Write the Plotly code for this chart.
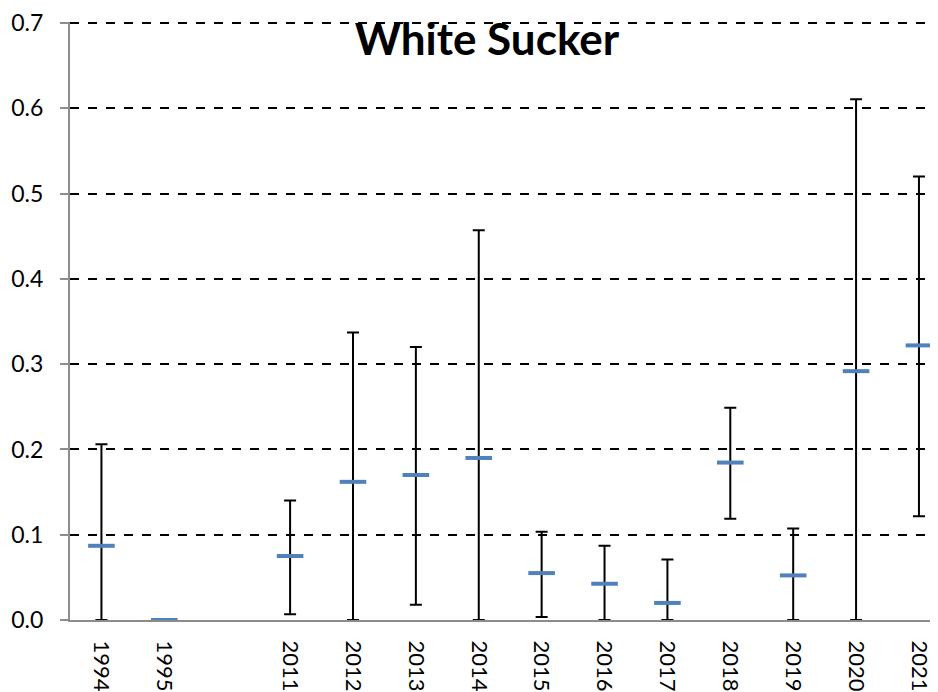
import plotly.graph_objects as go

categories = ["1994", "1995", " ", "2011", "2012", "2013", "2014", "2015",
              "2016", "2017", "2018", "2019", "2020", "2021"]
years = ["1994", "1995", "2011", "2012", "2013", "2014", "2015",
         "2016", "2017", "2018", "2019", "2020", "2021"]
mean = [0.087, 0.0, 0.075, 0.162, 0.170, 0.190, 0.055, 0.0425, 0.020, 0.1846, 0.0523, 0.2918, 0.322]
upper = [0.206, 0.0, 0.140, 0.337, 0.320, 0.457, 0.1034, 0.087, 0.071, 0.249, 0.1073, 0.6107, 0.520]
lower = [0.0, 0.0, 0.0066, 0.0, 0.018, 0.0, 0.0035, 0.0, 0.0, 0.1186, 0.0, 0.0, 0.1217]

err_plus = [u - m for u, m in zip(upper, mean)]
err_minus = [m - l for m, l in zip(mean, lower)]

fig = go.Figure()
fig.add_trace(go.Scatter(
    x=years, y=mean, mode="markers",
    marker=dict(symbol="line-ew", size=19, line=dict(width=4, color="#4F81BD"), color="#4F81BD"),
    error_y=dict(type="data", symmetric=False, array=err_plus, arrayminus=err_minus,
                 color="black", thickness=2, width=6),
    showlegend=False, cliponaxis=False,
))

font_family = "Lato, Liberation Sans, sans-serif"
fig.update_layout(
    width=938, height=692,
    margin=dict(l=62, r=0, t=14, b=80, autoexpand=False),
    paper_bgcolor="white", plot_bgcolor="white",
    font=dict(family=font_family, color="black", size=22),
    title=dict(text="<b>White Sucker</b>", x=479/938, xanchor="center",
               y=1 - 32/692, yanchor="middle",
               font=dict(family=font_family, size=44, color="black")),
    xaxis=dict(type="category", categoryorder="array", categoryarray=categories,
               range=[-0.5, 13.43], tickangle=90, showgrid=False,
               showline=True, linecolor="#8c8c8c", linewidth=2, ticks="",
               ticklabelstandoff=14,
               tickfont=dict(size=22), zeroline=False),
    yaxis=dict(range=[0, 0.7012], dtick=0.1, tickformat=".1f",
               showgrid=True, gridcolor="black", griddash="dash", gridwidth=1.6,
               showline=True, linecolor="#8c8c8c", linewidth=2,
               ticks="outside", ticklen=8, tickcolor="#8c8c8c", tickwidth=1.5,
               ticklabelstandoff=12,
               tickfont=dict(size=23), zeroline=False),
)

fig.write_html("out.html")
